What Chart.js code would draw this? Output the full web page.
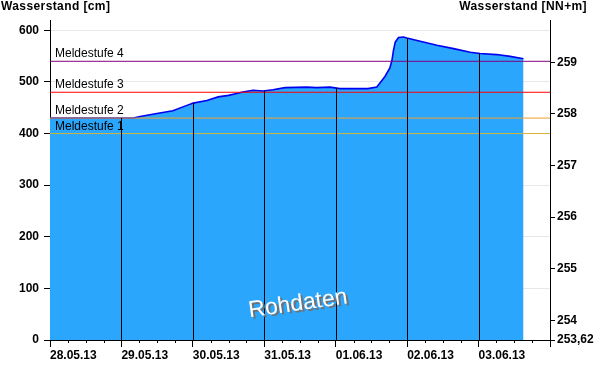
<!DOCTYPE html>
<html><head><meta charset="utf-8">
<script src="https://cdn.jsdelivr.net/npm/chart.js@4/dist/chart.umd.min.js"></script>
<style>html,body{margin:0;padding:0;background:#fff}canvas{display:block}</style>
</head><body>
<canvas id="c" width="600" height="384" style="width:600px;height:384px"></canvas>
<script>
// ---- data ----
const dayLabels = ['28.05.13','29.05.13','30.05.13','31.05.13','01.06.13','02.06.13','03.06.13'];
// hours since 28.05.13 00:00
const hours = [0, 12, 28, 30.3, 35.9, 41.3, 47.1, 48.1, 52.7, 56.5, 60, 62.7, 64.8, 68.2, 71.6, 74.9, 79, 86.3, 89.6, 94.1, 97.4, 106.8, 109.8, 111, 112.6, 114.2, 114.9, 115.4, 116, 117.1, 118.8, 119.9, 124.4, 130, 135.6, 141.2, 144.5, 150.1, 154.6, 159.1];
// water level in cm
const levels = [430, 430, 430, 433, 439, 444, 457, 459, 464, 471, 474, 477.5, 480.5, 484, 482.5, 485, 489, 490, 489, 490, 487, 487, 490, 499, 511, 527, 542, 561, 577, 586, 587, 585, 579, 571, 564.5, 557.5, 555, 553, 549.5, 545];
const warnNames = ['Meldestufe 1','Meldestufe 2','Meldestufe 3','Meldestufe 4'];
const warnLevels = [400, 430, 480, 540];
const gaugeZero = 253.62;          // NN+m at 0 cm
const rightTicks = [253.62, 254, 255, 256, 257, 258, 259];
const yMax = 620;
const xMaxHours = 168;
const leftTitle = 'Wasserstand [cm]';
const rightTitle = 'Wasserstand [NN+m]';
const watermark = 'Rohdaten';

// ---- styles ----
const warnColors = ['#d2b43c', '#f0a030', '#ff0000', '#800080'];
const FONT = "'Liberation Sans', Arial, sans-serif";
Chart.defaults.font.family = FONT;
Chart.defaults.font.size = 12;
Chart.defaults.color = '#000';

function levelAt(h) {
  if (h < hours[0] || h > hours[hours.length - 1]) return null;
  for (let i = 1; i < hours.length; i++) {
    if (h <= hours[i]) {
      const t = (h - hours[i - 1]) / (hours[i] - hours[i - 1]);
      return levels[i - 1] + t * (levels[i] - levels[i - 1]);
    }
  }
  return null;
}

const datasets = [{
  label: 'Wasserstand',
  data: hours.map((h, i) => ({x: h, y: levels[i]})),
  borderColor: '#0000f0',
  borderWidth: 1.6,
  backgroundColor: '#2ba6fd',
  fill: 'origin',
  pointRadius: 0,
  tension: 0,
  order: 10,
  yAxisID: 'y'
}];
warnLevels.forEach((v, i) => {
  datasets.push({
    label: warnNames[i],
    data: [{x: 0, y: v}, {x: xMaxHours, y: v}],
    borderColor: warnColors[i],
    borderWidth: 1,
    pointRadius: 0,
    fill: false,
    order: 1,
    yAxisID: 'y'
  });
});

const overlay = {
  id: 'overlay',
  afterDatasetsDraw(chart) {
    const ctx = chart.ctx, xs = chart.scales.x, ys = chart.scales.y, a = chart.chartArea;
    ctx.save();
    // day lines under the curve
    ctx.strokeStyle = '#000';
    ctx.lineWidth = 1;
    for (let d = 1; d < dayLabels.length; d++) {
      const v = levelAt(d * 24);
      if (v === null) continue;
      const px = Math.round(xs.getPixelForValue(d * 24)) + 0.5;
      ctx.beginPath();
      ctx.moveTo(px, ys.getPixelForValue(v));
      ctx.lineTo(px, ys.getPixelForValue(0));
      ctx.stroke();
    }
    // Meldestufe labels
    ctx.font = '12px ' + FONT;
    ctx.fillStyle = '#000';
    ctx.textAlign = 'left';
    ctx.textBaseline = 'alphabetic';
    warnLevels.forEach((v, i) => {
      ctx.fillText(warnNames[i], a.left + 5, ys.getPixelForValue(v) - 4);
    });
    // minor ticks on x axis
    ctx.beginPath();
    xs.ticks.forEach(t => {
      if (t.value % 24 !== 0) {
        const px = Math.round(xs.getPixelForValue(t.value)) + 0.5;
        ctx.moveTo(px, a.bottom);
        ctx.lineTo(px, a.bottom + 3);
      }
    });
    ctx.stroke();
    // watermark
    ctx.translate((a.left + a.right) / 2 - 2, a.bottom - 36);
    ctx.rotate(-8 * Math.PI / 180);
    ctx.font = '23px ' + FONT;
    ctx.textAlign = 'center';
    ctx.textBaseline = 'middle';
    ctx.fillStyle = '#707070';
    ctx.fillText(watermark, 2, 2);
    ctx.fillStyle = '#ffffff';
    ctx.fillText(watermark, 0, 0);
    ctx.restore();
  },
  afterDraw(chart) {
    const ctx = chart.ctx;
    ctx.save();
    ctx.font = 'bold 12px ' + FONT;
    ctx.fillStyle = '#000';
    ctx.textBaseline = 'alphabetic';
    try { ctx.letterSpacing = '0.4px'; } catch (e) {}
    ctx.textAlign = 'left';
    ctx.fillText(leftTitle, 1, 10);
    ctx.textAlign = 'right';
    ctx.fillText(rightTitle, chart.width - 13, 10);
    ctx.restore();
  }
};

new Chart(document.getElementById('c'), {
  type: 'line',
  data: {datasets},
  plugins: [overlay],
  options: {
    responsive: false,
    animation: false,
    events: [],
    layout: {padding: {top: 20, left: 0, right: 0, bottom: 0}},
    plugins: {legend: {display: false}, tooltip: {enabled: false}, title: {display: false}},
    scales: {
      x: {
        type: 'linear', position: 'bottom', min: 0, max: xMaxHours,
        ticks: {
          stepSize: 6, autoSkip: false, maxRotation: 0, minRotation: 0, align: 'start', padding: 1,
          font: {weight: 'bold', size: 12}, color: '#000',
          callback: v => (v % 24 === 0 && dayLabels[v / 24]) ? dayLabels[v / 24] : ''
        },
        grid: {
          drawOnChartArea: false, tickLength: 7,
          tickColor: c => (c.tick && c.tick.value % 24 === 0) ? '#000' : 'rgba(0,0,0,0)'
        },
        border: {color: '#000', width: 1},
        afterFit: s => { s.height = 44; }
      },
      y: {
        type: 'linear', position: 'left', min: 0, max: yMax,
        ticks: {stepSize: 100, includeBounds: false, padding: 5, font: {weight: 'bold', size: 12}, color: '#000'},
        grid: {color: '#e8e8e8', tickColor: '#000', tickLength: 6},
        border: {color: '#000', width: 1},
        afterFit: s => { s.width = 50; }
      },
      y2: {
        type: 'linear', position: 'right', min: gaugeZero, max: gaugeZero + yMax / 100,
        afterBuildTicks: s => { s.ticks = rightTicks.map(v => ({value: v})); },
        ticks: {padding: 2, font: {weight: 'bold', size: 12}, color: '#000',
          callback: v => String(v).replace('.', ',')},
        grid: {drawOnChartArea: false, tickColor: '#000', tickLength: 5},
        border: {color: '#000', width: 1},
        afterFit: s => { s.width = 50; }
      }
    }
  }
});
</script>
</body></html>
